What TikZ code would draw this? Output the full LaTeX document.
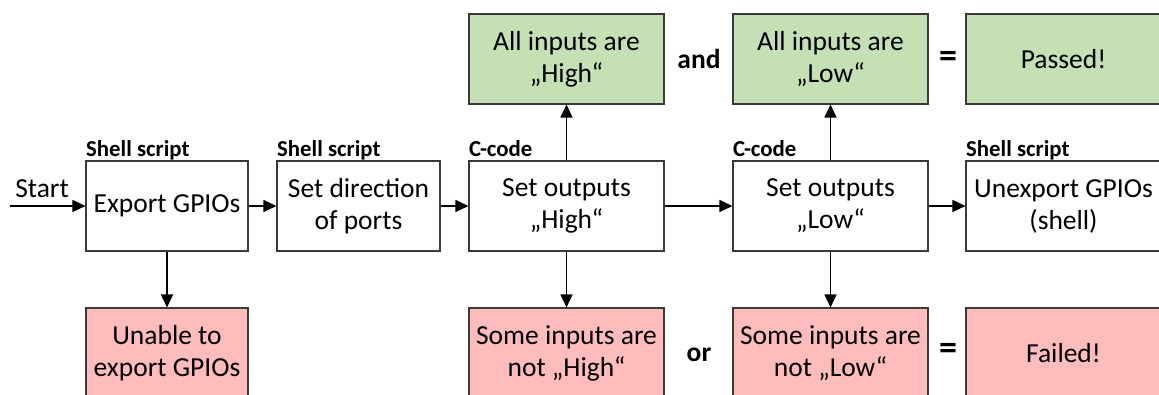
\documentclass[tikz,border=0pt]{standalone}
\usepackage{fontspec}
\setmainfont{Carlito}
\usetikzlibrary{arrows.meta}
\definecolor{okgreen}{HTML}{C5E0B4}
\definecolor{errred}{HTML}{FFBCBC}
\definecolor{boxline}{HTML}{3A3A3A}
\tikzset{
  box/.style={draw=boxline, line width=1.1pt, rectangle, inner sep=0pt, align=center,
    minimum height=90pt, font=\fontsize{27.5}{32}\selectfont},
  narrow/.style={box, minimum width=162pt},
  wide/.style={box, minimum width=195pt},
  passbox/.style={fill=okgreen},
  failbox/.style={fill=errred},
  tag/.style={anchor=base west, inner sep=0pt, font=\fontsize{22.8}{25}\selectfont\bfseries},
  op/.style={inner sep=0pt, font=\fontsize{27.5}{30}\selectfont\bfseries},
  eqsign/.style={inner sep=0pt, font=\fontsize{36}{38}\selectfont\bfseries},
  flow/.style={line width=1.6pt, -{Triangle[length=13pt,width=12pt]}}
}
\begin{document}
\begin{tikzpicture}[x=1pt,y=-1pt]
\useasboundingbox (0,0) rectangle (1159,394);
\clip (0,0) rectangle (1159,394);

% main sequence
\node[narrow] (export) at (167,206) {Export GPIOs};
\node[narrow, minimum width=163pt] (setdir) at (358.5,206) {Set direction\\of ports};
\node[wide] (sethigh) at (566.5,206) {Set outputs\\„High“};
\node[wide] (setlow) at (830.5,206) {Set outputs\\„Low“};
\node[wide] (unexport) at (1063.5,206) {Unexport GPIOs\\(shell)};

% results
\node[wide, passbox] (allhigh) at (566.5,59) {All inputs are\\„High“};
\node[wide, passbox] (alllow) at (830.5,59) {All inputs are\\„Low“};
\node[wide, passbox] (passed) at (1063.5,59) {Passed!};
\node[narrow, failbox] (unable) at (167,353) {Unable to\\export GPIOs};
\node[wide, failbox] (somehigh) at (566.5,353) {Some inputs are\\not „High“};
\node[wide, failbox] (somelow) at (830.5,353) {Some inputs are\\not „Low“};
\node[wide, failbox] (failed) at (1063.5,353) {Failed!};

% tool labels
\node[tag] (t1) at (86,156) {Shell script};
\node[tag] (t2) at (277,156) {Shell script};
\node[tag] (t3) at (469,156) {C-code};
\node[tag] (t4) at (733,156) {C-code};
\node[tag] (t5) at (966,156) {Shell script};

% operators
\node[op] (and) at (699,59) {and};
\node[eqsign] (eq1) at (948,59) {=};
\node[op] (or) at (699,355) {or};
\node[eqsign] (eq2) at (948,351) {=};

% entry
\coordinate (in) at (10,206);
\node[anchor=base, inner sep=0pt, font=\fontsize{27.5}{30}\selectfont] (start) at (42,197) {Start};

% connectors
\draw[flow] (in) -- (export);
\draw[flow] (export) -- (setdir);
\draw[flow] (setdir) -- (sethigh);
\draw[flow] (sethigh) -- (setlow);
\draw[flow] (setlow) -- (unexport);
\draw[flow] (export) -- (unable);
\draw[flow] (sethigh) -- (allhigh);
\draw[flow] (sethigh) -- (somehigh);
\draw[flow] (setlow) -- (alllow);
\draw[flow] (setlow) -- (somelow);
\end{tikzpicture}
\end{document}
